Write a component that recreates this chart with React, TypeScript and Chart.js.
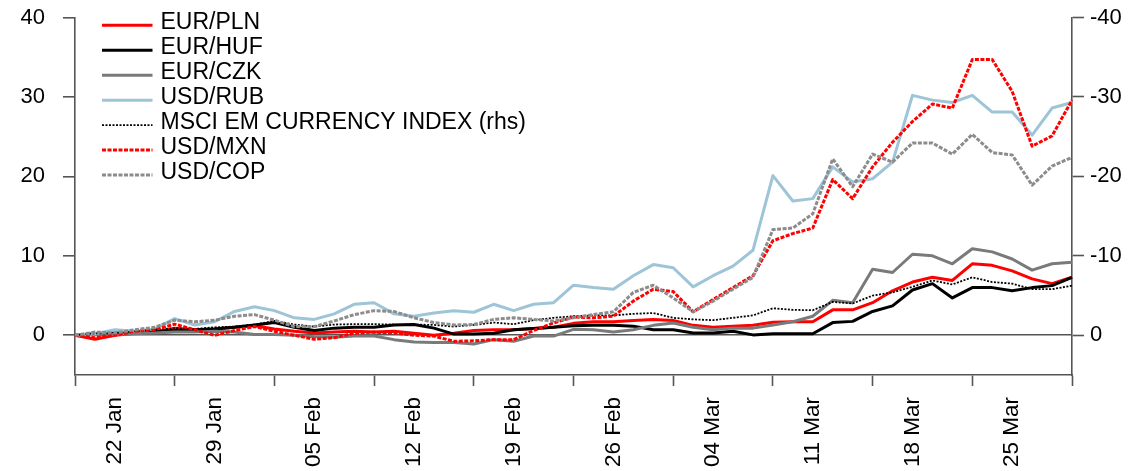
import React, { useEffect, useRef } from 'react';
import { Chart, registerables } from 'chart.js';

Chart.register(...registerables);

// Business days, 20 Jan 2020 – 30 Mar 2020
const dates = [
  '20 Jan', '21 Jan', '22 Jan', '23 Jan', '24 Jan',
  '27 Jan', '28 Jan', '29 Jan', '30 Jan', '31 Jan',
  '03 Feb', '04 Feb', '05 Feb', '06 Feb', '07 Feb',
  '10 Feb', '11 Feb', '12 Feb', '13 Feb', '14 Feb',
  '17 Feb', '18 Feb', '19 Feb', '20 Feb', '21 Feb',
  '24 Feb', '25 Feb', '26 Feb', '27 Feb', '28 Feb',
  '02 Mar', '03 Mar', '04 Mar', '05 Mar', '06 Mar',
  '09 Mar', '10 Mar', '11 Mar', '12 Mar', '13 Mar',
  '16 Mar', '17 Mar', '18 Mar', '19 Mar', '20 Mar',
  '23 Mar', '24 Mar', '25 Mar', '26 Mar', '27 Mar',
  '30 Mar',
];

const eurPln = [
  0, -0.5, 0, 0.25, 0.4, 0.9, 0.7, 0.8, 1.0, 1.2,
  0.8, 0.5, 0.3, 0.4, 0.5, 0.4, 0.5, 0.25, 0, 0.25,
  0.6, 0.7, 0.7, 0.85, 1.0, 1.5, 1.7, 1.7, 1.85, 2.0,
  1.85, 1.25, 1.0, 1.15, 1.25, 1.65, 1.7, 1.7, 3.2, 3.2,
  4.1, 5.6, 6.7, 7.3, 6.9, 9.0, 8.8, 8.1, 7.1, 6.5,
  7.3,
];

const eurHuf = [
  0, 0.2, 0.3, 0.4, 0.5, 0.6, 0.7, 0.8, 1.0, 1.3,
  1.6, 1.0, 0.6, 0.9, 1.0, 1.0, 1.3, 1.35, 0.9, 0.15,
  0.15, 0.25, 0.7, 0.85, 1.0, 1.2, 1.25, 1.25, 1.15, 0.7,
  0.7, 0.3, 0.3, 0.5, 0.05, 0.2, 0.2, 0.2, 1.6, 1.75,
  3.0, 3.7, 5.7, 6.5, 4.7, 6.0, 6.0, 5.6, 6.0, 6.25,
  7.3,
];

const eurCzk = [
  0, 0.1, 0.1, 0.2, 0.3, 0.4, 0.4, 0.5, 0.4, 0.1,
  0.1, 0.0, -0.2, -0.25, -0.1, -0.1, -0.55, -0.85, -0.9, -0.9,
  -1.1, -0.55, -0.75, -0.1, -0.1, 0.75, 0.7, 0.4, 0.7, 1.25,
  1.55, 1.0, 0.7, 0.9, 0.9, 1.3, 1.7, 2.4, 4.4, 4.1,
  8.3, 7.9, 10.2, 10.0, 9.0, 10.9, 10.5, 9.6, 8.2, 9.0,
  9.2,
];

const usdRub = [
  0, 0.2, 0.7, 0.5, 0.8, 2.1, 1.3, 1.7, 3.0, 3.6,
  3.1, 2.2, 2.0, 2.7, 3.9, 4.1, 2.7, 2.4, 2.8, 3.1,
  2.9, 3.9, 3.1, 3.9, 4.1, 6.3, 6.0, 5.8, 7.5, 8.9,
  8.5, 6.1, 7.5, 8.7, 10.7, 20.1, 16.9, 17.2, 21.2, 19.3,
  19.7, 21.8, 30.2, 29.6, 29.3, 30.2, 28.1, 28.1, 25.2, 28.6,
  29.3,
];

// right-hand scale (inverted)
const msciEm = [
  0, -0.25, -0.25, -0.5, -0.7, -0.9, -0.8, -1.0, -1.1, -1.35,
  -1.8, -1.35, -1.1, -1.35, -1.4, -1.4, -1.35, -1.35, -1.3, -1.1,
  -1.3, -1.6, -1.4, -1.9, -2.2, -2.4, -2.5, -2.5, -2.7, -2.8,
  -2.2, -2.0, -1.9, -2.2, -2.5, -3.4, -3.2, -3.15, -4.2, -4.0,
  -5.0, -5.4, -6.1, -6.9, -6.4, -7.3, -6.7, -6.5, -5.8, -5.8,
  -6.25,
];

const usdMxn = [
  0, -0.3, 0, 0.5, 0.7, 1.4, 0.7, 0, 0.6, 1.1,
  0.5, 0, -0.5, -0.3, 0.25, 0.4, 0.3, 0, -0.1, -0.75,
  -0.7, -0.55, -0.55, 0.6, 1.55, 2.3, 2.2, 2.4, 4.3, 5.8,
  5.5, 2.95, 4.5, 6.0, 7.5, 11.9, 12.8, 13.5, 19.6, 17.2,
  21.2, 24.3, 26.9, 29.1, 28.6, 34.7, 34.7, 30.7, 23.8, 25.1,
  29.6,
];

const usdCop = [
  0, 0.4, 0.3, 0.7, 1.0, 1.9, 1.7, 1.9, 2.4, 2.6,
  1.9, 1.1, 1.1, 1.8, 2.6, 3.1, 3.0, 2.2, 1.6, 1.3,
  1.35, 2.0, 2.2, 2.0, 1.8, 2.2, 2.6, 2.95, 5.4, 6.3,
  4.7, 2.95, 4.3, 5.8, 7.3, 13.3, 13.5, 15.3, 22.2, 18.7,
  22.8, 21.8, 24.2, 24.2, 22.8, 25.3, 23.0, 22.7, 18.9, 21.3,
  22.4,
];

const leftTicks = [0, 10, 20, 30, 40];
const rightTicks = [-40, -30, -20, -10, 0];

const FONT = "'Liberation Sans', Arial, Helvetica, sans-serif";
const AXIS = '#555555';

export default function App() {
  const ref = useRef<HTMLCanvasElement | null>(null);

  useEffect(() => {
    if (!ref.current) return;

    const legendPlugin = {
      id: 'insideLegend',
      afterDraw(chart: any) {
        const ctx = chart.ctx;
        ctx.save();
        chart.data.datasets.forEach((ds: any, k: number) => {
          const y = 25.3 + 24.95 * k;
          ctx.beginPath();
          ctx.strokeStyle = ds.borderColor;
          ctx.lineWidth = ds.borderWidth;
          ctx.setLineDash(ds.borderDash || []);
          ctx.moveTo(102, y);
          ctx.lineTo(152.5, y);
          ctx.stroke();
          ctx.setLineDash([]);
          ctx.fillStyle = '#000';
          ctx.font = `23px ${FONT}`;
          ctx.textAlign = 'left';
          ctx.textBaseline = 'alphabetic';
          ctx.fillText(ds.label, 160.5, y + 3.8);
        });
        ctx.restore();
      },
    };

    const mk = (label: string, data: number[], color: string, width: number, dash: number[], order: number, axis = 'y') => ({
      label,
      data,
      borderColor: color,
      backgroundColor: color,
      borderWidth: width,
      borderDash: dash,
      borderJoinStyle: 'round',
      pointRadius: 0,
      tension: 0,
      fill: false,
      yAxisID: axis,
      order,
    });

    const zeroPad = (s: any) => { s.paddingTop = 0; s.paddingBottom = 0; };

    const chart = new Chart(ref.current, {
      type: 'line',
      data: {
        labels: dates,
        datasets: [
          mk('EUR/PLN', eurPln, '#ff0000', 3, [], 6),
          mk('EUR/HUF', eurHuf, '#000000', 3, [], 5),
          mk('EUR/CZK', eurCzk, '#7a7a7a', 3, [], 4),
          mk('USD/RUB', usdRub, '#9ec4d7', 3, [], 3),
          mk('MSCI EM CURRENCY INDEX (rhs)', msciEm, '#000000', 1.8, [2, 1.5], 2, 'y2'),
          mk('USD/MXN', usdMxn, '#ff0000', 3, [4, 1.5], 1),
          mk('USD/COP', usdCop, '#8c8c8c', 3, [4, 1.5], 0),
        ] as any,
      },
      options: {
        responsive: false,
        animation: false,
        layout: { padding: { top: 17.5, left: 0, right: 0, bottom: 0 } },
        plugins: {
          legend: { display: false },
          tooltip: { enabled: false },
        },
        scales: {
          x: {
            type: 'category',
            offset: false,
            border: { display: true, color: AXIS, width: 1.6 },
            grid: {
              drawOnChartArea: false,
              drawTicks: true,
              tickLength: 11,
              tickWidth: 1.6,
              tickColor: (c: any) => (c.index % 5 === 0 ? AXIS : 'rgba(0,0,0,0)'),
            },
            ticks: {
              autoSkip: false,
              minRotation: 90,
              maxRotation: 90,
              padding: 11,
              color: '#000',
              font: { family: FONT, size: 22.5 },
              callback: (_v: any, i: number) => (i % 5 === 2 ? dates[i] : ''),
            },
            afterFit: (s: any) => { s.height = 96; s.paddingLeft = 0; s.paddingRight = 0; },
          },
          y: {
            position: 'left',
            min: -5,
            max: 40,
            border: { display: true, color: AXIS, width: 1.6 },
            grid: {
              drawOnChartArea: true,
              color: (c: any) => (c.tick && c.tick.value === 0 ? AXIS : 'rgba(0,0,0,0)'),
              lineWidth: 1.6,
              tickColor: AXIS,
              tickLength: 12,
              tickWidth: 1.6,
            },
            ticks: { color: '#000', padding: 18, font: { family: FONT, size: 22 } },
            afterBuildTicks: (s: any) => { s.ticks = leftTicks.map((v) => ({ value: v })); },
            afterFit: (s: any) => { s.width = 75; zeroPad(s); },
          },
          y2: {
            position: 'right',
            min: -40,
            max: 5,
            reverse: true,
            border: { display: true, color: AXIS, width: 1.6 },
            grid: {
              drawOnChartArea: false,
              tickColor: AXIS,
              tickLength: 12,
              tickWidth: 1.6,
            },
            ticks: { color: '#000', padding: 6, font: { family: FONT, size: 22 } },
            afterBuildTicks: (s: any) => { s.ticks = rightTicks.map((v) => ({ value: v })); },
            afterFit: (s: any) => { s.width = 69; zeroPad(s); },
          },
        },
      } as any,
      plugins: [legendPlugin],
    });

    return () => chart.destroy();
  }, []);

  return (
    <div style={{ position: 'fixed', left: 0, top: 0, width: 1141, height: 471, background: '#fff' }}>
      <canvas ref={ref} width={1141} height={471} style={{ width: 1141, height: 471, display: 'block' }} />
    </div>
  );
}
